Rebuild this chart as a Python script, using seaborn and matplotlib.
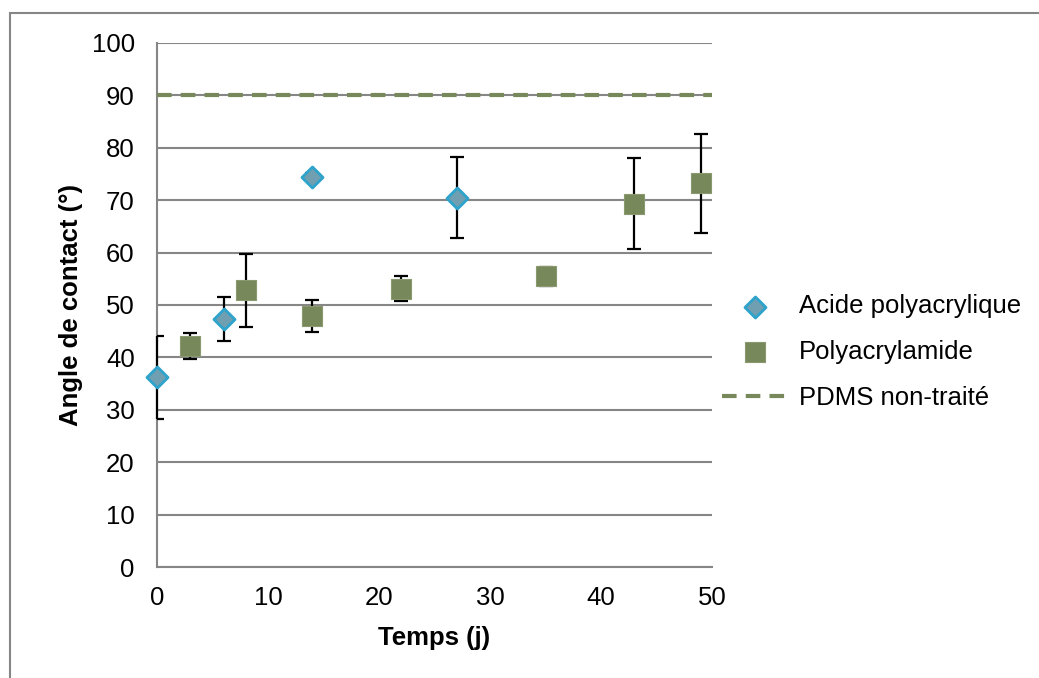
import numpy as np
import pandas as pd
import matplotlib
matplotlib.use("Agg")
import matplotlib.pyplot as plt
import seaborn as sns
from matplotlib.patches import Rectangle

# Data
paa_days = [0, 6, 14, 27]
paa_angle = [36.2, 47.4, 74.5, 70.5]
paa_err = [7.9, 4.2, 0.6, 7.8]

pam_days = [3, 8, 14, 22, 35, 43, 49]
pam_angle = [42.1, 52.8, 47.9, 53.1, 55.5, 69.3, 73.2]
pam_err = [2.5, 7.0, 3.1, 2.4, 1.8, 8.7, 9.5]

pdms_days = [0, 50]
pdms_angle = [90, 90]

x_ticks = [0, 10, 20, 30, 40, 50]
y_ticks = list(range(0, 101, 10))

sns.set_theme(style="white")
plt.rcParams['font.family'] = ['Liberation Sans', 'DejaVu Sans']
plt.rcParams['text.color'] = 'black'
plt.rcParams['axes.labelcolor'] = 'black'

blue_fill = '#6f9fb0'
blue_edge = '#2ea3cb'
green = '#77885a'
grid_col = '#868686'

fig = plt.figure(figsize=(10.39, 6.78), dpi=100)
ax = fig.add_axes([0.1511, 0.1637, 0.5342, 0.7729])

# outer chart border
fig.patches.append(Rectangle((10 / 1039, -0.05), 1.2, 1 - 13 / 678 + 0.05,
                             transform=fig.transFigure, fill=False,
                             edgecolor='#868686', lw=1.5))

paa = pd.DataFrame({'Temps': paa_days, 'Angle': paa_angle, 'err': paa_err})
pam = pd.DataFrame({'Temps': pam_days, 'Angle': pam_angle, 'err': pam_err})
pdms = pd.DataFrame({'Temps': pdms_days, 'Angle': pdms_angle})

# horizontal grid lines
for yv in y_ticks:
    ax.axhline(yv, color=grid_col, lw=1.5, zorder=0)

# error bars (drawn over the axis line, under the markers)
eb = ax.errorbar(paa['Temps'], paa['Angle'], yerr=paa['err'], fmt='none',
                 ecolor='black', elinewidth=1.6, capsize=5, capthick=1.6,
                 zorder=3)
for col in eb[2]:
    col.set_clip_on(False)
ax.errorbar(pam['Temps'], pam['Angle'], yerr=pam['err'], fmt='none',
            ecolor='black', elinewidth=1.6, capsize=5, capthick=1.6,
            zorder=3)

sns.lineplot(data=pdms, x='Temps', y='Angle', ax=ax, color=green, lw=3,
             dashes=False, label='PDMS non-traité', zorder=3.5)
ax.lines[-1].set_dashes([3.5, 2.2])

sns.scatterplot(data=paa, x='Temps', y='Angle', ax=ax, marker='D', s=115,
                color=blue_fill, edgecolor=blue_edge, linewidth=2,
                label='Acide polyacrylique', zorder=4, clip_on=False)
sns.scatterplot(data=pam, x='Temps', y='Angle', ax=ax, marker='s', s=215,
                color=green, edgecolor='#8a9a70', linewidth=0.8,
                label='Polyacrylamide', zorder=4, clip_on=False)

ax.set_xlim(0, 50)
ax.set_ylim(0, 100)
ax.set_xticks(x_ticks)
ax.set_yticks(y_ticks)
ax.tick_params(axis='both', labelsize=18.5, length=0, colors='black')
ax.tick_params(axis='x', pad=14)
ax.tick_params(axis='y', pad=16)

for side in ['top', 'right']:
    ax.spines[side].set_visible(False)
for side in ['left', 'bottom']:
    ax.spines[side].set_color(grid_col)
    ax.spines[side].set_linewidth(1.5)

ax.set_xlabel('Temps (j)', fontsize=18.5, fontweight='bold', labelpad=11)
ax.set_ylabel('Angle de contact (°)', fontsize=18.5, fontweight='bold', labelpad=6)

handles, labels = ax.get_legend_handles_labels()
order = [labels.index('Acide polyacrylique'), labels.index('Polyacrylamide'),
         labels.index('PDMS non-traité')]
leg = ax.legend([handles[i] for i in order], [labels[i] for i in order],
                loc='center left', bbox_to_anchor=(0.999, 0.41), frameon=False,
                fontsize=18.5, handlelength=2.6, handletextpad=0.4,
                labelspacing=0.85, borderaxespad=0.0)

fig.savefig('out.png', dpi=100)
